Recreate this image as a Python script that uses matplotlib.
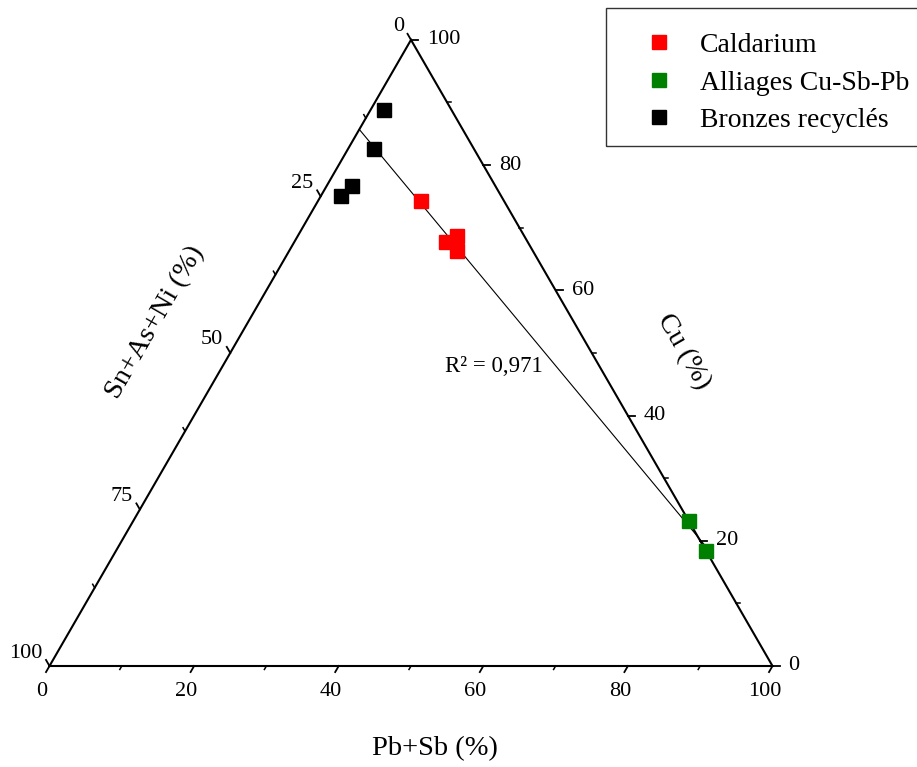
import numpy as np
import matplotlib
matplotlib.use('Agg')
import matplotlib.pyplot as plt
from matplotlib.patches import Rectangle

plt.rcParams['font.family'] = ['Liberation Serif', 'DejaVu Serif']

# Ternary compositions (%): Pb+Sb, Cu, Sn+As+Ni
caldarium_pbsb = [14.2, 21.0, 22.0, 23.2]
caldarium_cu = [74.3, 67.7, 68.6, 66.2]
caldarium_sn = [11.5, 11.3, 9.4, 10.6]

alliages_pbsb = [76.8, 81.7]
alliages_cu = [23.2, 18.3]
alliages_sn = [0.0, 0.0]

bronzes_pbsb = [1.9, 3.6, 3.5, 2.8]
bronzes_cu = [88.8, 82.5, 76.6, 75.0]
bronzes_sn = [9.3, 13.9, 19.9, 22.2]

major_ticks = [0, 20, 40, 60, 80, 100]
minor_ticks = [10, 30, 50, 70, 90]
left_major = [0, 25, 50, 75, 100]
left_minor = [12.5, 37.5, 62.5, 87.5]
r2_label = 'R² = 0,971'

H = np.sqrt(3) / 2
SIDE = 723.0          # triangle side in pixels
X0, Y0 = 49.5, 666.0  # bottom-left vertex in pixels
W, HT = 917, 767


def tern(a, c):
    # a = Pb+Sb (bottom), c = Cu (right, top vertex)
    a = np.asarray(a, float)
    c = np.asarray(c, float)
    return (a + c / 2) / 100, c * H / 100


fig = plt.figure(figsize=(W / 100, HT / 100), dpi=100)
ax = fig.add_axes([0, 0, 1, 1])
ax.set_xlim(-X0 / SIDE, (W - X0) / SIDE)
ax.set_ylim((Y0 - HT) / SIDE, Y0 / SIDE)
ax.axis('off')

# triangle frame
ax.plot([0, 1, 0.5, 0], [0, 0, H, 0], color='black', lw=1.5, solid_joinstyle='miter', zorder=2)

px = 1 / SIDE
tick_fs = 16


def draw_ticks(point, direction, majors, minors, offset, ha, va):
    d = np.array(direction)
    for v in majors:
        p = np.array(point(v))
        q = p + d * 7 * px
        ax.plot([p[0], q[0]], [p[1], q[1]], color='black', lw=1.3, zorder=2)
        ax.text(p[0] + offset[0] * px, p[1] + offset[1] * px, '%g' % v,
                ha=ha, va=va, fontsize=tick_fs)
    for v in minors:
        p = np.array(point(v))
        q = p + d * 4 * px
        ax.plot([p[0], q[0]], [p[1], q[1]], color='black', lw=1.1, zorder=2)


# bottom axis: Pb+Sb
draw_ticks(lambda v: (v / 100, 0), (-0.5, -H), major_ticks, minor_ticks,
           (-8, -16), 'center', 'top')
# right axis: Cu
draw_ticks(lambda v: (1 - v / 200, v * H / 100), (1, 0), major_ticks, minor_ticks,
           (16, 0), 'left', 'center')
# left axis: Sn+As+Ni
draw_ticks(lambda v: (0.5 - v / 200, H * (1 - v / 100)), (-0.5, H), left_major, left_minor,
           (-7, 13), 'right', 'center')

# axis titles
ax.text((434.5 - X0) * px, (Y0 - 749) * px, 'Pb+Sb (%)', ha='center', va='center', fontsize=20.5)
ax.text((155 - X0) * px, (Y0 - 322) * px, 'Sn+As+Ni (%)', ha='center', va='center',
        fontsize=20.5, rotation=60, rotation_mode='anchor')
ax.text((683 - X0) * px, (Y0 - 352) * px, 'Cu (%)', ha='center', va='center',
        fontsize=20.5, rotation=-60, rotation_mode='anchor')

# linear fit Cu vs Pb+Sb on caldarium + alliages
fit_a = np.array(caldarium_pbsb + alliages_pbsb)
fit_c = np.array(caldarium_cu + alliages_cu)
m, b = np.polyfit(fit_a, fit_c, 1)
a_line = np.array([0, max(alliages_pbsb)])
lx, ly = tern(a_line, m * a_line + b)
ax.plot(lx, ly, color='black', lw=0.8, zorder=3)
ax.text((445 - X0) * px, (Y0 - 367) * px, r2_label, ha='left', va='center', fontsize=16.5)

# data points
ms = 9.5
for pbsb, cu, color, label in [
        (caldarium_pbsb, caldarium_cu, '#ff0000', 'Caldarium'),
        (alliages_pbsb, alliages_cu, '#008000', 'Alliages Cu-Sb-Pb'),
        (bronzes_pbsb, bronzes_cu, '#000000', 'Bronzes recyclés')]:
    x, y = tern(pbsb, cu)
    ax.plot(x, y, 's', color=color, ms=ms, mec=color, label=label, zorder=4)

# legend box drawn separately, legend itself without frame
fig.patches.append(Rectangle((606 / W, 1 - 146 / HT), (W - 606 + 5) / W, 138 / HT,
                             transform=fig.transFigure, fill=False,
                             edgecolor='#333333', lw=1.0))
fig.legend(loc='upper left', bbox_to_anchor=(606 / W, 1 - 15.4 / HT),
           fontsize=20, frameon=False, borderaxespad=0, borderpad=0.62,
           handlelength=2.57, handletextpad=0.2, labelspacing=0.435)

plt.savefig('out.png', dpi=100)
